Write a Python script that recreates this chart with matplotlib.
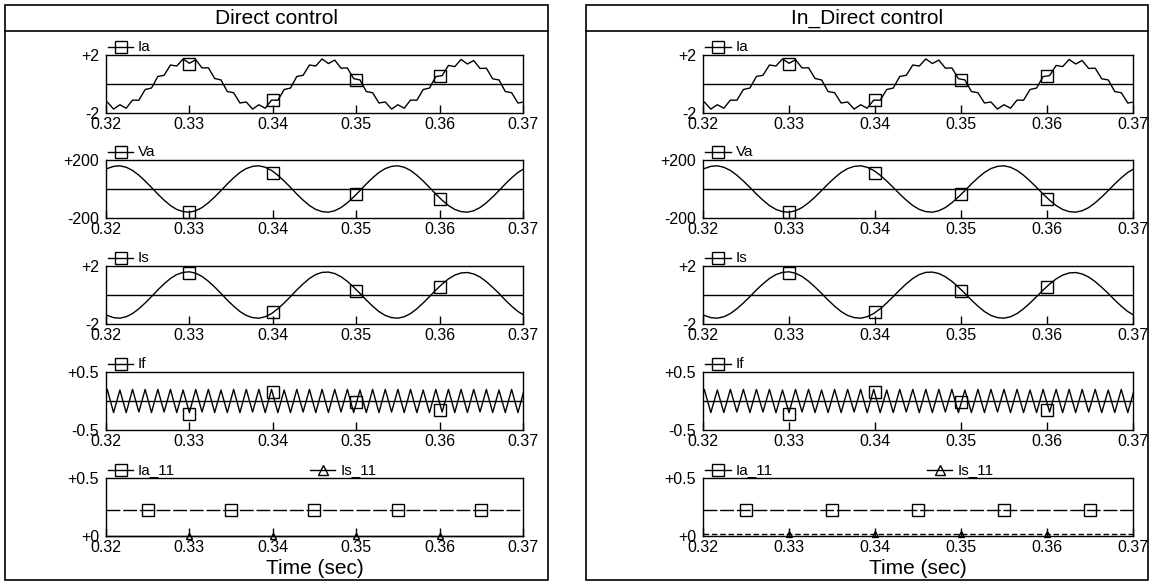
import numpy as np
import matplotlib
matplotlib.use("Agg")
import matplotlib.pyplot as plt
from matplotlib.patches import Rectangle
from matplotlib.lines import Line2D

plt.rcParams["font.family"] = ["Liberation Sans", "DejaVu Sans"]

W, H = 1161, 585

# sample times: ripple peaks/troughs (half periods of the 660 Hz ripple) around 0.33 s
t = 0.33 + np.arange(-14, 54) / 1320.0

is_vals = [
    -1.14, -1.41, -1.56, -1.60, -1.50, -1.28, -0.95, -0.55, -0.11, 0.35, 0.77, 1.14, 1.41, 1.56,
    1.60, 1.50, 1.28, 0.95, 0.55, 0.11, -0.35, -0.77, -1.14, -1.41, -1.56, -1.60, -1.50, -1.28,
    -0.95, -0.55, -0.11, 0.35, 0.77, 1.14, 1.41, 1.56,
    1.58, 1.48, 1.26, 0.94, 0.54, 0.11, -0.35, -0.77, -1.14, -1.41, -1.56, -1.60, -1.50, -1.28,
    -0.95, -0.55, -0.11, 0.34, 0.75, 1.11, 1.37, 1.52,
    1.55, 1.45, 1.24, 0.92, 0.53, 0.11, -0.35, -0.77, -1.14, -1.41,
]
if_vals = [
    -0.19, 0.20, -0.20, 0.19, -0.20, 0.20, -0.19, 0.20, -0.20, 0.20, -0.19, 0.20, -0.20, 0.19,
    -0.20, 0.20, -0.19, 0.20, -0.20, 0.19, -0.20, 0.20, -0.20, 0.20, -0.19, 0.20, -0.20, 0.20,
    -0.20, 0.19, -0.20, 0.20, -0.19, 0.20, -0.20, 0.20,
    -0.20, 0.20, -0.19, 0.20, -0.20, 0.19, -0.20, 0.20, -0.20, 0.20, -0.19, 0.20, -0.20, 0.20,
    -0.20, 0.19, -0.20, 0.20, -0.19, 0.20, -0.20, 0.20,
    -0.20, 0.20, -0.19, 0.20, -0.20, 0.19, -0.20, 0.20, -0.20, 0.20,
]
ia_vals = [
    -1.31, -1.24, -1.73, -1.43, -1.67, -1.11, -1.12, -0.38, -0.28, 0.52, 0.60, 1.31, 1.24, 1.73,
    1.43, 1.67, 1.11, 1.12, 0.38, 0.28, -0.52, -0.60, -1.31, -1.24, -1.73, -1.43, -1.67, -1.11,
    -1.12, -0.38, -0.28, 0.52, 0.60, 1.31, 1.24, 1.73,
    1.41, 1.65, 1.09, 1.11, 0.37, 0.28, -0.52, -0.60, -1.31, -1.24, -1.73, -1.43, -1.67, -1.11,
    -1.12, -0.38, -0.28, 0.51, 0.58, 1.28, 1.20, 1.69,
    1.38, 1.62, 1.07, 1.09, 0.36, 0.28, -0.52, -0.60, -1.31, -1.24,
]
va_vals = [
    114, 141, 156, 160, 150, 128, 95, 55, 11, -35, -77, -114, -141, -156,
    -160, -150, -128, -95, -55, -11, 35, 77, 114, 141, 156, 160, 150, 128,
    95, 55, 11, -35, -77, -114, -141, -156,
    -160, -150, -128, -95, -55, -11, 35, 77, 114, 141, 156, 160, 150, 128,
    95, 55, 11, -35, -77, -114, -141, -156,
    -160, -150, -128, -95, -55, -11, 35, 77, 114, 141,
]

# square markers drawn on each trace
mark_t = [0.33, 0.34, 0.35, 0.36]
ia_marks = [1.40, -1.08, 0.25, 0.56]
va_marks = [-160, 112, -32, -70]
is_marks = [1.55, -1.20, 0.28, 0.58]
if_marks = [-0.22, 0.15, -0.02, -0.15]

# 11th harmonic magnitudes
ia11_t = [0.32, 0.325, 0.335, 0.345, 0.355, 0.365, 0.37]
ia11_vals = [0.22, 0.22, 0.22, 0.22, 0.22, 0.22, 0.22]
is11_t = [0.32, 0.33, 0.34, 0.35, 0.36, 0.37]
is11_direct = [0.0, 0.0, 0.0, 0.0, 0.0, 0.0]
is11_indirect = [0.02, 0.02, 0.02, 0.02, 0.02, 0.02]

x_ticks = [0.32, 0.33, 0.34, 0.35, 0.36, 0.37]
x_labels = ["0.32", "0.33", "0.34", "0.35", "0.36", "0.37"]

ROWS = [(55, 113), (160, 218), (266, 324), (372, 430), (478, 536)]


def fbox(x0, y0, x1, y1):
    return [x0 / W, 1 - y1 / H, (x1 - x0) / W, (y1 - y0) / H]


def tag(ax, xa, label, marker, ms=8):
    y = 1.14
    ax.plot([xa, xa + 0.06], [y, y], color="k", lw=1, transform=ax.transAxes, clip_on=False)
    ax.plot([xa + 0.03], [y], marker=marker, ms=ms, mfc="none", mec="k", mew=1,
            transform=ax.transAxes, clip_on=False)
    ax.text(xa + 0.072, y, label, transform=ax.transAxes, va="center", ha="left", fontsize=11)


def style(ax, ylim, ylabels):
    ax.set_xlim(0.32, 0.37)
    ax.set_ylim(*ylim)
    ax.set_xticks(x_ticks)
    ax.set_xticklabels(x_labels)
    ax.set_yticks(list(ylim))
    ax.set_yticklabels(ylabels)
    ax.tick_params(axis="x", direction="in", length=6, width=1, labelsize=11.5, pad=3)
    ax.tick_params(axis="y", length=0, labelsize=11.5, pad=5)
    for s in ax.spines.values():
        s.set_linewidth(1)


def main():
    fig = plt.figure(figsize=(W / 100, H / 100), dpi=100)
    panels = [
        ("Direct control", 5, 548, 106, 523, 0.49, is11_direct, "-"),
        ("In_Direct control", 586, 1148, 703, 1133, 0.52, is11_indirect, (0, (4, 2))),
    ]
    traces = [
        ("Ia", ia_vals, ia_marks, (-2, 2), ["-2", "+2"]),
        ("Va", va_vals, va_marks, (-200, 200), ["-200", "+200"]),
        ("Is", is_vals, is_marks, (-2, 2), ["-2", "+2"]),
        ("If", if_vals, if_marks, (-0.5, 0.5), ["-0.5", "+0.5"]),
    ]
    for title, px0, px1, ax0, ax1, tag_x, is11, is11_ls in panels:
        fig.add_artist(Rectangle((px0 / W, 1 - 580 / H), (px1 - px0) / W, 575 / H,
                                 transform=fig.transFigure, fill=False, ec="k", lw=1.2))
        fig.add_artist(Line2D([px0 / W, px1 / W], [1 - 31 / H, 1 - 31 / H],
                              transform=fig.transFigure, color="k", lw=1.2))
        fig.text((px0 + px1) / 2 / W, 1 - 18 / H, title, ha="center", va="center", fontsize=15)

        for (name, vals, marks, ylim, ylabels), (y0, y1) in zip(traces, ROWS):
            ax = fig.add_axes(fbox(ax0, y0, ax1, y1))
            ax.axhline(0, color="k", lw=1)
            ax.plot(t, vals, color="k", lw=1)
            ax.plot(mark_t, marks, ls="none", marker="s", ms=8, mfc="none", mec="k", mew=1,
                    clip_on=False)
            style(ax, ylim, ylabels)
            tag(ax, 0.005, name, "s")

        y0, y1 = ROWS[4]
        ax = fig.add_axes(fbox(ax0, y0, ax1, y1))
        ax.plot(ia11_t, ia11_vals, color="k", lw=1, ls=(0, (10, 2)),
                marker="s", ms=9, mfc="none", mec="k", mew=1, markevery=[1, 2, 3, 4, 5])
        ax.plot(is11_t, is11, color="k", lw=1, ls=is11_ls, marker="^", ms=5, mfc="none",
                mec="k", mew=1, markevery=[1, 2, 3, 4], clip_on=False)
        style(ax, (0, 0.5), ["+0", "+0.5"])
        tag(ax, 0.005, "Ia_11", "s")
        tag(ax, tag_x, "Is_11", "^", ms=7)
        fig.text((ax0 + ax1) / 2 / W, 1 - 569 / H, "Time (sec)", ha="center", va="center",
                 fontsize=15)

    fig.savefig("out.png", dpi=100)


if __name__ == "__main__":
    main()
